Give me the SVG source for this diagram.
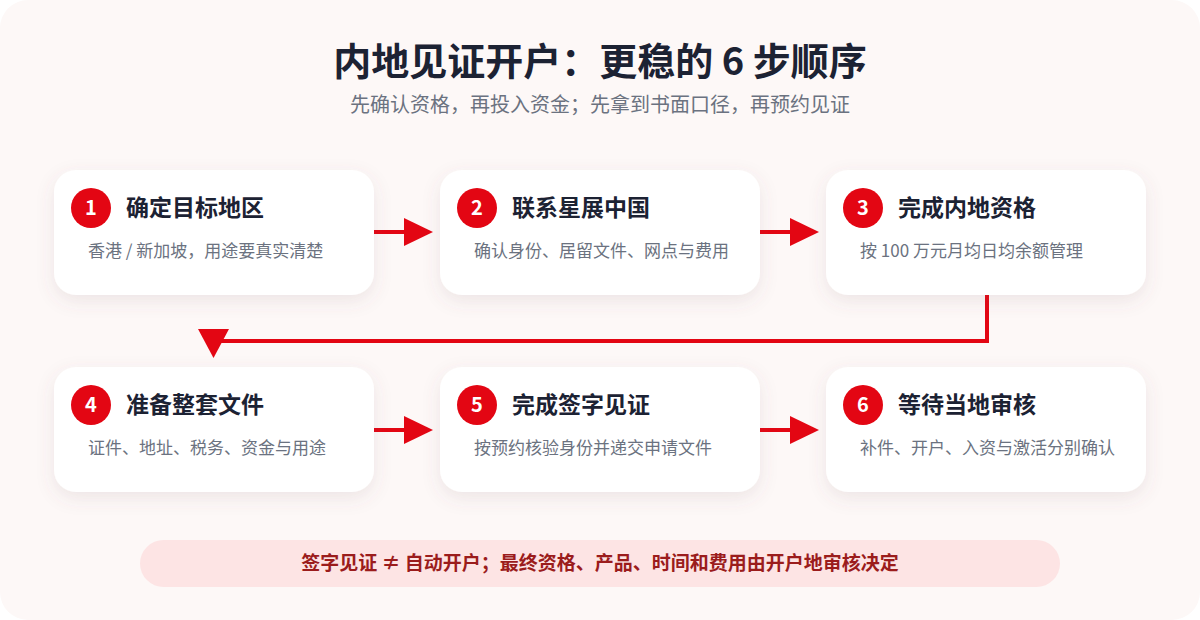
<svg xmlns="http://www.w3.org/2000/svg" width="1200" height="620" viewBox="0 0 1200 620">
<defs>
<filter id="sh" x="-20%" y="-30%" width="140%" height="170%">
<feDropShadow dx="0" dy="6" stdDeviation="9" flood-color="#7a5560" flood-opacity="0.12"/>
</filter>
<style>
.card{fill:#ffffff;filter:url(#sh)}
.num{fill:#e30613}
.nt{font-family:"Noto Sans CJK SC",sans-serif;font-size:20px;font-weight:bold;fill:#ffffff;text-anchor:middle}
.tt{font-family:"Noto Sans CJK SC",sans-serif;font-size:23px;font-weight:bold;fill:#1c2233}
.st{font-family:"Noto Sans CJK SC",sans-serif;font-size:17px;fill:#6b7280}
.ln{stroke:#e30613;stroke-width:4;fill:none}
.hd{fill:#e30613}
</style>
</defs>
<rect x="0" y="0" width="1200" height="620" rx="28" fill="#fdf8f7"/>
<text x="600" y="75" text-anchor="middle" font-family="Noto Sans CJK SC, sans-serif" font-size="38" font-weight="bold" fill="#1c2233">内地见证开户：更稳的 6 步顺序</text>
<text x="600" y="112" text-anchor="middle" font-family="Noto Sans CJK SC, sans-serif" font-size="20" fill="#6b7280">先确认资格，再投入资金；先拿到书面口径，再预约见证</text>

<g id="connectors">
<line class="ln" x1="374" y1="232" x2="406" y2="232"/>
<polygon class="hd" points="404,218 433,232 404,246"/>
<line class="ln" x1="760" y1="232" x2="792" y2="232"/>
<polygon class="hd" points="790,218 819,232 790,246"/>
<polyline class="ln" points="987,295 987,341 213,341"/>
<polygon class="hd" points="198,329 229,329 213.5,358"/>
<line class="ln" x1="374" y1="430" x2="406" y2="430"/>
<polygon class="hd" points="404,416 433,430 404,444"/>
<line class="ln" x1="760" y1="430" x2="792" y2="430"/>
<polygon class="hd" points="790,416 819,430 790,444"/>
</g>

<g id="step1">
<rect class="card" x="54" y="170" width="320" height="125" rx="22"/>
<circle class="num" cx="91" cy="208" r="20"/>
<text class="nt" x="91" y="215">1</text>
<text class="tt" x="126" y="216">确定目标地区</text>
<text class="st" x="88" y="257">香港 / 新加坡，用途要真实清楚</text>
</g>
<g id="step2">
<rect class="card" x="440" y="170" width="320" height="125" rx="22"/>
<circle class="num" cx="477" cy="208" r="20"/>
<text class="nt" x="477" y="215">2</text>
<text class="tt" x="512" y="216">联系星展中国</text>
<text class="st" x="474" y="257">确认身份、居留文件、网点与费用</text>
</g>
<g id="step3">
<rect class="card" x="826" y="170" width="320" height="125" rx="22"/>
<circle class="num" cx="863" cy="208" r="20"/>
<text class="nt" x="863" y="215">3</text>
<text class="tt" x="898" y="216">完成内地资格</text>
<text class="st" x="860" y="257">按 100 万元月均日均余额管理</text>
</g>
<g id="step4">
<rect class="card" x="54" y="367" width="320" height="125" rx="22"/>
<circle class="num" cx="91" cy="405" r="20"/>
<text class="nt" x="91" y="412">4</text>
<text class="tt" x="126" y="413">准备整套文件</text>
<text class="st" x="88" y="454">证件、地址、税务、资金与用途</text>
</g>
<g id="step5">
<rect class="card" x="440" y="367" width="320" height="125" rx="22"/>
<circle class="num" cx="477" cy="405" r="20"/>
<text class="nt" x="477" y="412">5</text>
<text class="tt" x="512" y="413">完成签字见证</text>
<text class="st" x="474" y="454">按预约核验身份并递交申请文件</text>
</g>
<g id="step6">
<rect class="card" x="826" y="367" width="320" height="125" rx="22"/>
<circle class="num" cx="863" cy="405" r="20"/>
<text class="nt" x="863" y="412">6</text>
<text class="tt" x="898" y="413">等待当地审核</text>
<text class="st" x="860" y="454">补件、开户、入资与激活分别确认</text>
</g>

<g id="note">
<rect x="140" y="540" width="920" height="47" rx="23.5" fill="#fde4e4"/>
<text x="600" y="570" text-anchor="middle" font-family="Noto Sans CJK SC, sans-serif" font-size="19" font-weight="bold" fill="#9b1c1c">签字见证 ≠ 自动开户；最终资格、产品、时间和费用由开户地审核决定</text>
</g>
</svg>
